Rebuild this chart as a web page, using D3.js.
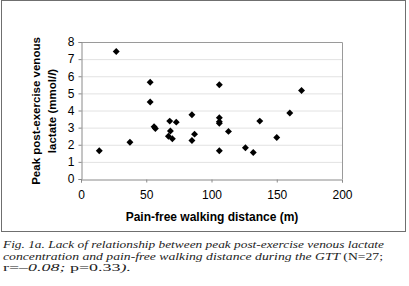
<!DOCTYPE html>
<html>
<head>
<meta charset="utf-8">
<script src="https://cdn.jsdelivr.net/npm/d3@7"></script>
<style>
  body { margin: 0; background: #fff; }
  svg { display: block; }
  .tick text { font-family: "Liberation Sans", Arial, sans-serif; font-size: 12px; fill: #000; }
  .axis-title { font-family: "Liberation Sans", Arial, sans-serif; font-weight: bold; fill: #000; }
  .caption { font-family: "Liberation Serif", serif; font-size: 10.5px; fill: #222; }
</style>
</head>
<body>
<div id="chart"></div>
<script>
// walking distance (m) and peak lactate (mmol/l)
const distance = [14, 27, 37.5, 53, 53, 56, 57, 68, 68.5, 67, 70, 73, 85, 85, 87,
                  106, 106, 106, 106, 106, 113, 126, 132, 137, 150, 160, 169];
const lactate = [1.65, 7.45, 2.15, 5.65, 4.5, 3.05, 2.95, 3.38, 2.8, 2.5, 2.35, 3.32, 3.75, 2.25, 2.62,
                 5.5, 3.58, 3.35, 3.25, 1.65, 2.78, 1.83, 1.55, 3.38, 2.42, 3.85, 5.17];
const xTicks = [0, 50, 100, 150, 200];
const yTicks = [0, 1, 2, 3, 4, 5, 6, 7, 8];

const points = distance.map((d, i) => ({ x: d, y: lactate[i] }));

const W = 409, H = 286;
const svg = d3.select("#chart").append("svg")
    .attr("width", W)
    .attr("height", H);

// outer frame around the chart
svg.append("rect")
    .attr("x", 1.5).attr("y", 0.5)
    .attr("width", 404).attr("height", 231)
    .attr("fill", "none")
    .attr("stroke", "#6f6f6f")
    .attr("stroke-width", 1);

const plot = { left: 81, right: 342, top: 42, bottom: 179 };

const x = d3.scaleLinear().domain([0, 200]).range([plot.left, plot.right]);
const y = d3.scaleLinear().domain([0, 8]).range([plot.bottom, plot.top]);

// gridlines
svg.append("g")
    .selectAll("line")
    .data(yTicks.slice(1))
    .join("line")
    .attr("x1", plot.left).attr("x2", plot.right)
    .attr("y1", d => y(d) + 0.5).attr("y2", d => y(d) + 0.5)
    .attr("stroke", "#e2e2e2");

// plot area border (top and right)
svg.append("path")
    .attr("d", `M${plot.left},${plot.top + 0.5}H${plot.right + 0.5}V${plot.bottom}`)
    .attr("fill", "none")
    .attr("stroke", "#9a9a9a");

const xAxis = svg.append("g")
    .attr("transform", `translate(0,${plot.bottom + 0.5})`)
    .call(d3.axisBottom(x).tickValues(xTicks).tickSize(3).tickPadding(6));

const yAxis = svg.append("g")
    .attr("transform", `translate(${plot.left + 0.5},0)`)
    .call(d3.axisLeft(y).tickValues(yTicks).tickSize(3).tickPadding(4));

[xAxis, yAxis].forEach(g => {
    g.select(".domain").attr("stroke", "#8a8a8a");
    g.selectAll(".tick line").attr("stroke", "#8a8a8a");
});
xAxis.selectAll(".tick text").attr("dy", "0.9em");

// diamond markers
svg.append("g")
    .selectAll("path")
    .data(points)
    .join("path")
    .attr("d", d3.symbol().type(d3.symbolSquare).size(24))
    .attr("transform", d => `translate(${x(d.x)},${y(d.y)}) rotate(45)`)
    .attr("fill", "#000");

// axis titles
svg.append("text")
    .attr("class", "axis-title")
    .attr("font-size", 12)
    .attr("text-anchor", "middle")
    .attr("x", 212).attr("y", 221)
    .text("Pain-free walking distance (m)");

const yTitle = svg.append("text")
    .attr("class", "axis-title")
    .attr("font-size", 11.5)
    .attr("text-anchor", "middle")
    .attr("transform", "translate(40,111) rotate(-90)");
yTitle.append("tspan").attr("x", 0).attr("y", 0).text("Peak post-exercise venous");
const l2 = yTitle.append("tspan").attr("x", 0).attr("y", 16);
l2.append("tspan").text("lactate (mmol/");
l2.append("tspan").attr("font-style", "italic").text("l");
l2.append("tspan").text(")");

// caption
const cap = svg.append("g").attr("class", "caption");
cap.append("text").attr("x", 3).attr("y", 248)
    .attr("font-style", "italic")
    .attr("textLength", 381).attr("lengthAdjust", "spacingAndGlyphs")
    .text("Fig. 1a. Lack of relationship between peak post-exercise venous lactate");
const c2 = cap.append("text").attr("x", 3).attr("y", 259.5)
    .attr("textLength", 380).attr("lengthAdjust", "spacingAndGlyphs");
c2.append("tspan").attr("font-style", "italic")
    .text("concentration and pain-free walking distance during the GTT ");
c2.append("tspan").text("(N=27;");
const c3 = cap.append("text").attr("x", 3).attr("y", 271)
    .attr("textLength", 128).attr("lengthAdjust", "spacingAndGlyphs");
c3.append("tspan").text("r=");
c3.append("tspan").attr("font-style", "italic").text("–0.08; ");
c3.append("tspan").text("p=0.33");
c3.append("tspan").attr("font-style", "italic").text(").");
</script>
</body>
</html>
